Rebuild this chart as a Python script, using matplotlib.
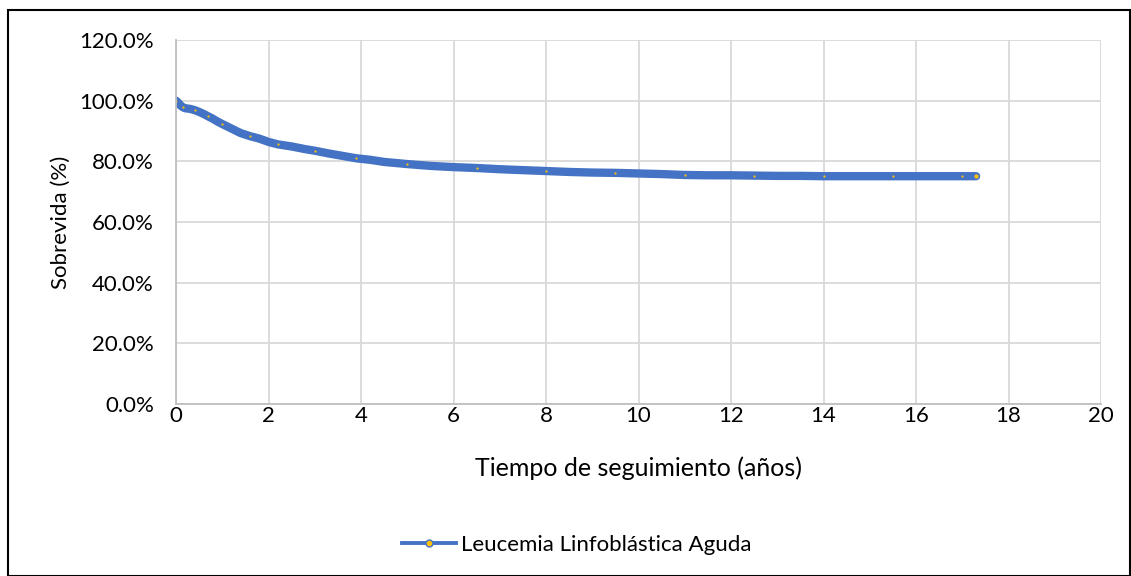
import matplotlib.pyplot as plt
from matplotlib.patches import Rectangle
from matplotlib.lines import Line2D

plt.rcParams['font.family'] = ['Lato', 'DejaVu Sans']

# Kaplan-Meier style survival, follow-up time in years vs survival (%)
tiempo = [0.0, 0.05, 0.1, 0.15, 0.2, 0.3, 0.4, 0.5, 0.6, 0.7, 0.8, 0.9, 1.0,
          1.2, 1.4, 1.6, 1.8, 2.0, 2.2, 2.5, 2.8, 3.0, 3.3, 3.6, 3.9, 4.2,
          4.5, 5.0, 5.5, 6.0, 6.5, 7.0, 7.5, 8.0, 8.5, 9.0, 9.5, 10.0, 10.5,
          11.0, 11.5, 12.0, 12.5, 13.0, 13.5, 14.0, 14.5, 15.0, 15.5, 16.0,
          16.5, 17.0, 17.3]
sobrevida = [100.0, 99.3, 98.4, 97.8, 97.5, 97.3, 96.9, 96.3, 95.6, 94.8,
             94.0, 93.1, 92.3, 90.8, 89.3, 88.3, 87.5, 86.4, 85.6, 84.9,
             84.0, 83.5, 82.6, 81.8, 81.0, 80.5, 79.8, 79.1, 78.5, 78.1,
             77.8, 77.4, 77.1, 76.8, 76.5, 76.3, 76.2, 76.0, 75.8, 75.5,
             75.4, 75.4, 75.3, 75.2, 75.2, 75.1, 75.1, 75.1, 75.1, 75.1,
             75.1, 75.1, 75.1]

azul = '#4472C4'
amarillo = '#FFC000'

fig = plt.figure(figsize=(11.31, 5.76), dpi=100)
ax = fig.add_axes([176 / 1131, 1 - 404 / 576, 925 / 1131, 364 / 576])

ax.plot(tiempo, sobrevida, color=azul, lw=6, solid_capstyle='round',
        solid_joinstyle='round')
# small yellow marker centres that peek through the thick line
ax.plot(tiempo[::3], sobrevida[::3], ls='none', marker='o', markersize=1.6,
        markerfacecolor=amarillo, markeredgewidth=0)
ax.plot(tiempo[-1:], sobrevida[-1:], ls='none', marker='o', markersize=3,
        markerfacecolor=amarillo, markeredgewidth=0)

ax.set_xlim(0, 20)
ax.set_ylim(0, 120)
ax.set_xticks(range(0, 21, 2))
ax.set_yticks(range(0, 121, 20))
ax.set_yticklabels([f'{v:.1f}%' for v in range(0, 121, 20)])
ax.tick_params(length=0, labelsize=16, colors='black')
ax.tick_params(axis='y', pad=16)
ax.tick_params(axis='x', pad=1.5)
ax.grid(color='#D9D9D9', lw=1.3)
ax.set_axisbelow(True)
for s in ['top', 'right']:
    ax.spines[s].set_visible(False)
for s in ['left', 'bottom']:
    ax.spines[s].set_color('#BFBFBF')
    ax.spines[s].set_linewidth(1.3)

ax.set_xlabel('Tiempo de seguimiento (años)', fontsize=18, labelpad=22)
ax.set_ylabel('Sobrevida (%)', fontsize=16, labelpad=6)

handle = Line2D([], [], color=azul, lw=2.8, marker='o', markersize=5,
                markerfacecolor=amarillo, markeredgecolor=azul,
                markeredgewidth=1)
fig.legend([handle], ['Leucemia Linfoblástica Aguda'], loc='center',
           bbox_to_anchor=(577 / 1131, 1 - 545 / 576), frameon=False,
           fontsize=16, handlelength=2.4, handletextpad=0.25)

fig.patches.append(Rectangle((8 / 1131, 0), 1122 / 1131, 1 - 10 / 576,
                             transform=fig.transFigure, fill=False,
                             edgecolor='black', lw=1.5))

fig.savefig('out.png', dpi=100)
